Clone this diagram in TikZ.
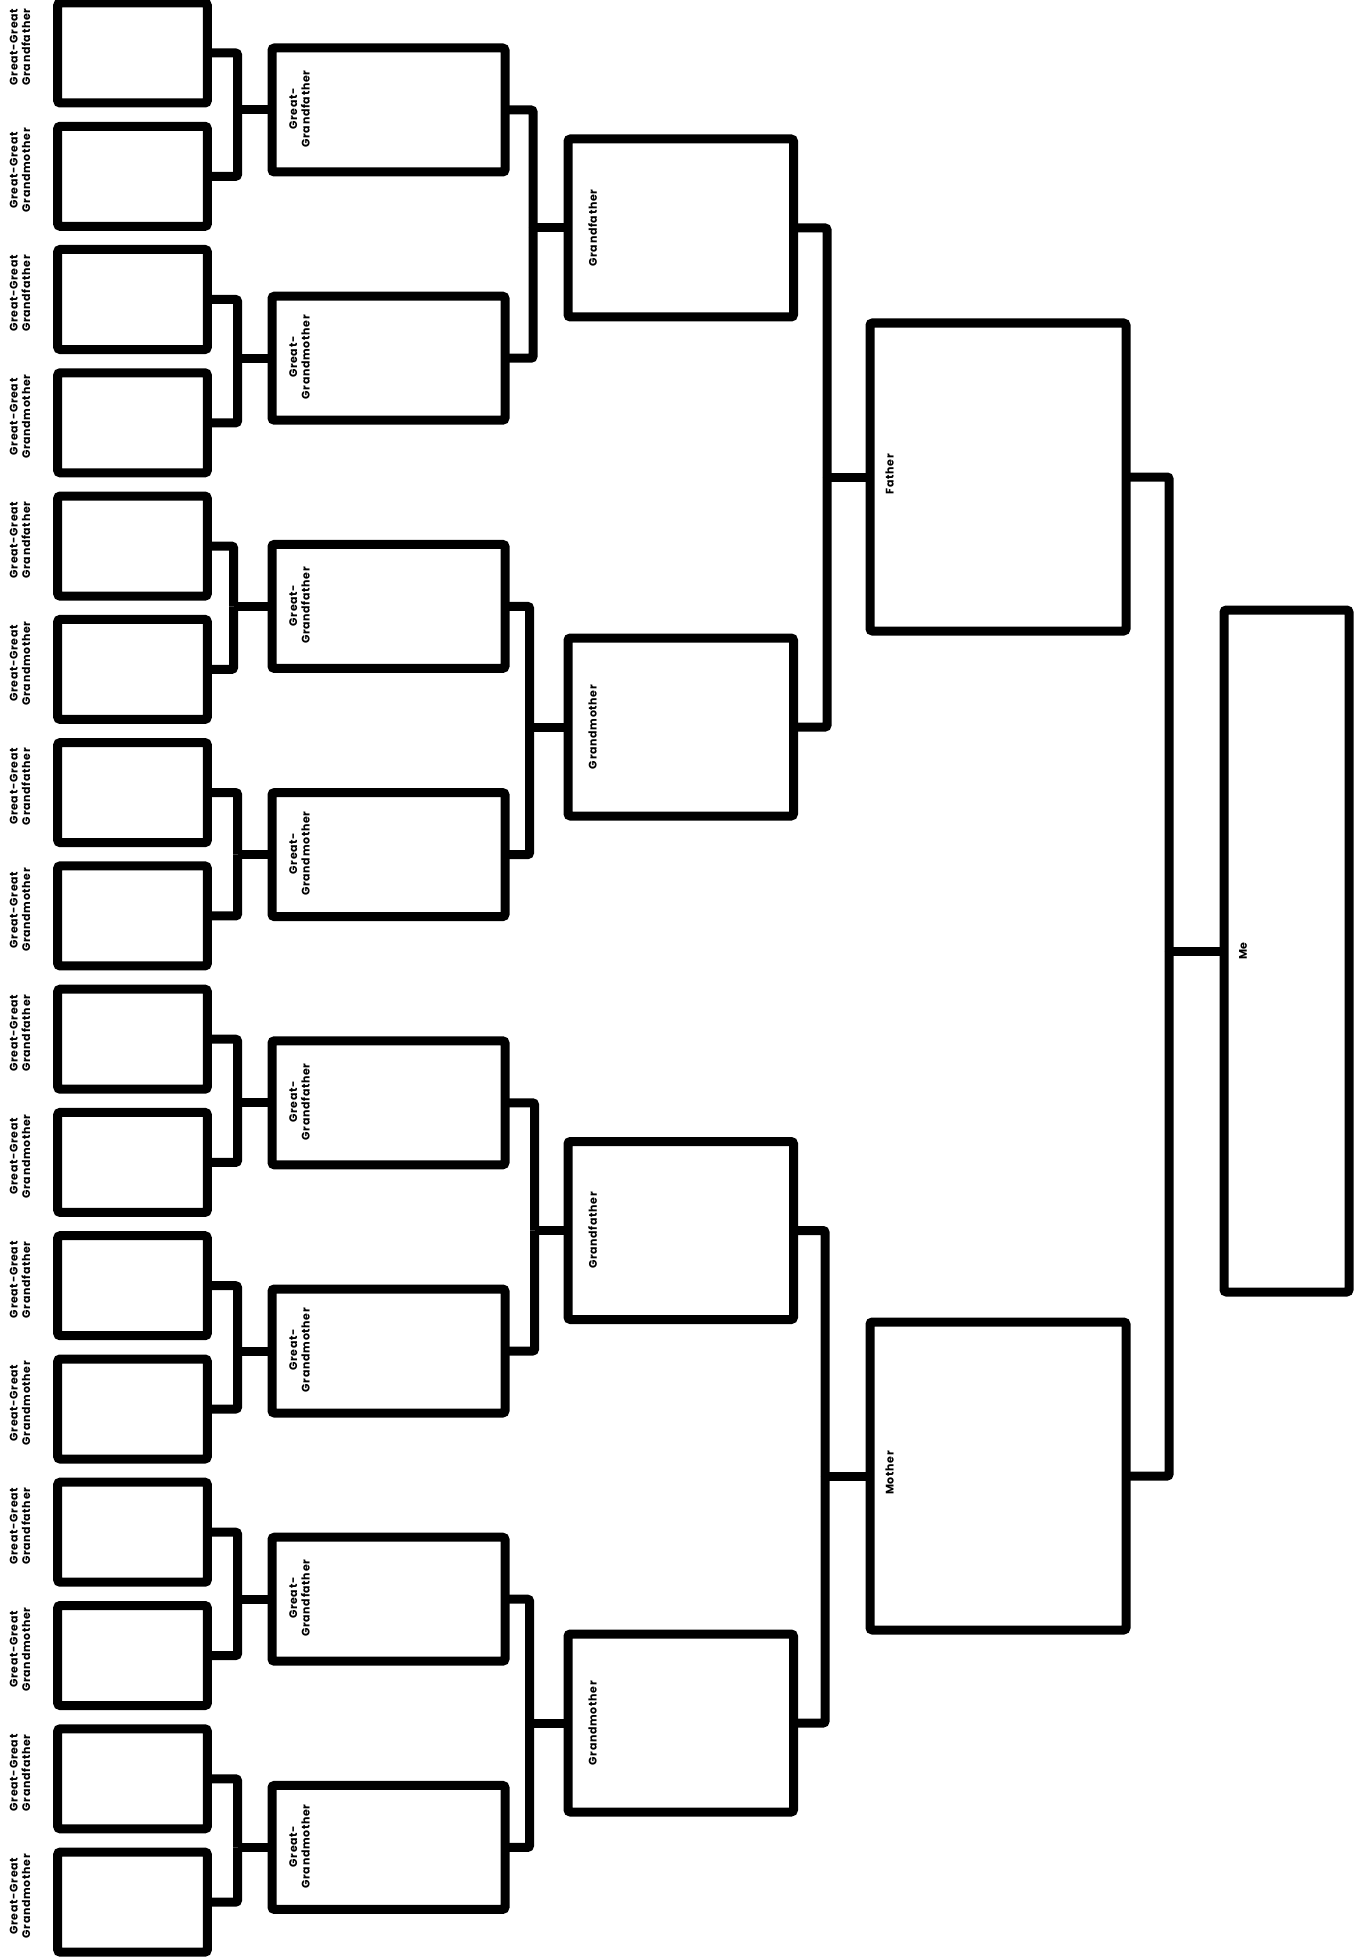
\documentclass[tikz,border=0pt]{standalone}
\usepackage{fontspec}
\setmainfont{Poppins}[LetterSpace=6]
\usepackage{tikz}

\tikzset{
  box/.style={draw, line width=9pt, rounded corners=2.5pt, inner sep=0pt, outer sep=0pt},
  ggbox/.style={box, minimum width=149.6pt, minimum height=100pt},
  gbox/.style={box, minimum width=233pt, minimum height=124pt},
  gpbox/.style={box, minimum width=225.5pt, minimum height=178pt},
  pbox/.style={box, minimum width=256pt, minimum height=308pt},
  mebox/.style={box, minimum width=125pt, minimum height=682pt},
  tag/.style={rotate=90, inner sep=0pt, align=center, font=\fontsize{11}{12.5}\selectfont\bfseries},
  link/.style={line width=9pt, rounded corners=2pt},
  hv/.style={to path={-| (\tikztotarget)}}
}

\begin{document}
\begin{tikzpicture}[x=1pt, y=-1pt]

      \useasboundingbox (0,0) rectangle (1355,1958);

      % great-great grandparents
      \node[ggbox] (gg1)  at (132.5, 53.0)   {};
      \node[ggbox] (gg2)  at (132.5, 176.3)  {};
      \node[ggbox] (gg3)  at (132.5, 299.5)  {};
      \node[ggbox] (gg4)  at (132.5, 422.8)  {};
      \node[ggbox] (gg5)  at (132.5, 546.1)  {};
      \node[ggbox] (gg6)  at (132.5, 669.4)  {};
      \node[ggbox] (gg7)  at (132.5, 792.6)  {};
      \node[ggbox] (gg8)  at (132.5, 915.9)  {};
      \node[ggbox] (gg9)  at (132.5, 1039.2) {};
      \node[ggbox] (gg10) at (132.5, 1162.4) {};
      \node[ggbox] (gg11) at (132.5, 1285.7) {};
      \node[ggbox] (gg12) at (132.5, 1409.0) {};
      \node[ggbox] (gg13) at (132.5, 1532.2) {};
      \node[ggbox] (gg14) at (132.5, 1655.5) {};
      \node[ggbox] (gg15) at (132.5, 1778.8) {};
      \node[ggbox] (gg16) at (132.5, 1902.1) {};

      \node[tag] (gg1l)  at ([xshift=-37.7pt, yshift=6pt]gg1.west)  {Great-Great\\Grandfather};
      \node[tag] (gg2l)  at ([xshift=-37.7pt, yshift=6pt]gg2.west)  {Great-Great\\Grandmother};
      \node[tag] (gg3l)  at ([xshift=-37.7pt, yshift=6pt]gg3.west)  {Great-Great\\Grandfather};
      \node[tag] (gg4l)  at ([xshift=-37.7pt, yshift=6pt]gg4.west)  {Great-Great\\Grandmother};
      \node[tag] (gg5l)  at ([xshift=-37.7pt, yshift=6pt]gg5.west)  {Great-Great\\Grandfather};
      \node[tag] (gg6l)  at ([xshift=-37.7pt, yshift=6pt]gg6.west)  {Great-Great\\Grandmother};
      \node[tag] (gg7l)  at ([xshift=-37.7pt, yshift=6pt]gg7.west)  {Great-Great\\Grandfather};
      \node[tag] (gg8l)  at ([xshift=-37.7pt, yshift=6pt]gg8.west)  {Great-Great\\Grandmother};
      \node[tag] (gg9l)  at ([xshift=-37.7pt, yshift=6pt]gg9.west)  {Great-Great\\Grandfather};
      \node[tag] (gg10l) at ([xshift=-37.7pt, yshift=6pt]gg10.west) {Great-Great\\Grandmother};
      \node[tag] (gg11l) at ([xshift=-37.7pt, yshift=6pt]gg11.west) {Great-Great\\Grandfather};
      \node[tag] (gg12l) at ([xshift=-37.7pt, yshift=6pt]gg12.west) {Great-Great\\Grandmother};
      \node[tag] (gg13l) at ([xshift=-37.7pt, yshift=6pt]gg13.west) {Great-Great\\Grandfather};
      \node[tag] (gg14l) at ([xshift=-37.7pt, yshift=6pt]gg14.west) {Great-Great\\Grandmother};
      \node[tag] (gg15l) at ([xshift=-37.7pt, yshift=6pt]gg15.west) {Great-Great\\Grandfather};
      \node[tag] (gg16l) at ([xshift=-37.7pt, yshift=6pt]gg16.west) {Great-Great\\Grandmother};

      % great grandparents
      \node[gbox] (g1) at (388.5, 110.0)  {};
      \node[gbox] (g2) at (388.5, 358.2)  {};
      \node[gbox] (g3) at (388.5, 606.4)  {};
      \node[gbox] (g4) at (388.5, 854.6)  {};
      \node[gbox] (g5) at (388.5, 1102.8) {};
      \node[gbox] (g6) at (388.5, 1351.0) {};
      \node[gbox] (g7) at (388.5, 1599.2) {};
      \node[gbox] (g8) at (388.5, 1847.4) {};

      \node[tag] (g1l) at ([xshift=27.5pt, yshift=1pt]g1.west) {Great-\\Grandfather};
      \node[tag] (g2l) at ([xshift=27.5pt, yshift=1pt]g2.west) {Great-\\Grandmother};
      \node[tag] (g3l) at ([xshift=27.5pt, yshift=1pt]g3.west) {Great-\\Grandfather};
      \node[tag] (g4l) at ([xshift=27.5pt, yshift=1pt]g4.west) {Great-\\Grandmother};
      \node[tag] (g5l) at ([xshift=27.5pt, yshift=1pt]g5.west) {Great-\\Grandfather};
      \node[tag] (g6l) at ([xshift=27.5pt, yshift=1pt]g6.west) {Great-\\Grandmother};
      \node[tag] (g7l) at ([xshift=27.5pt, yshift=1pt]g7.west) {Great-\\Grandfather};
      \node[tag] (g8l) at ([xshift=27.5pt, yshift=1pt]g8.west) {Great-\\Grandmother};

      % grandparents
      \node[gpbox] (gp1) at (680.75, 228.0)  {};
      \node[gpbox] (gp2) at (680.75, 727.0)  {};
      \node[gpbox] (gp3) at (680.75, 1230.5) {};
      \node[gpbox] (gp4) at (680.75, 1723.0) {};

      \node[tag] (gp1l) at ([xshift=24.5pt]gp1.west) {Grandfather};
      \node[tag] (gp2l) at ([xshift=24.5pt]gp2.west) {Grandmother};
      \node[tag] (gp3l) at ([xshift=24.5pt]gp3.west) {Grandfather};
      \node[tag] (gp4l) at ([xshift=24.5pt]gp4.west) {Grandmother};

      % parents and me
      \node[pbox] (f) at (998, 477)  {};
      \node[pbox] (m) at (998, 1476) {};
      \node[mebox] (me) at (1286.5, 951) {};

      \node[tag] (fl)  at ([xshift=19.5pt, yshift=3pt]f.west) {Father};
      \node[tag] (ml)  at ([xshift=19.5pt, yshift=3pt]m.west) {Mother};
      \node[tag] (mel) at ([xshift=19pt]me.west) {Me};

      % junctions
      \coordinate (a1) at ([xshift=-34.5pt]g1.west);
      \coordinate (a2) at ([xshift=-34.5pt]g2.west);
      \coordinate (a3) at ([xshift=-38.5pt]g3.west);
      \coordinate (a4) at ([xshift=-34.5pt]g4.west);
      \coordinate (a5) at ([xshift=-34.5pt]g5.west);
      \coordinate (a6) at ([xshift=-34.5pt]g6.west);
      \coordinate (a7) at ([xshift=-34.5pt]g7.west);
      \coordinate (a8) at ([xshift=-34.5pt]g8.west);
      \coordinate (b1) at ([xshift=-35pt]gp1.west);
      \coordinate (b2) at ([xshift=-38.5pt]gp2.west);
      \coordinate (b3) at ([xshift=-33.5pt]gp3.west);
      \coordinate (b4) at ([xshift=-38.5pt]gp4.west);
      \coordinate (c1) at ([xshift=-43pt]f.west);
      \coordinate (c2) at ([xshift=-45pt]m.west);
      \coordinate (d1) at ([xshift=-55pt]me.west);

      \path[link]
      (gg1) edge[hv] (a1)   (gg2) edge[hv] (a1)   (a1) edge (g1)
      (gg3) edge[hv] (a2)   (gg4) edge[hv] (a2)   (a2) edge (g2)
      (gg5) edge[hv] (a3)   (gg6) edge[hv] (a3)   (a3) edge (g3)
      (gg7) edge[hv] (a4)   (gg8) edge[hv] (a4)   (a4) edge (g4)
      (gg9) edge[hv] (a5)   (gg10) edge[hv] (a5)  (a5) edge (g5)
      (gg11) edge[hv] (a6)  (gg12) edge[hv] (a6)  (a6) edge (g6)
      (gg13) edge[hv] (a7)  (gg14) edge[hv] (a7)  (a7) edge (g7)
      (gg15) edge[hv] (a8)  (gg16) edge[hv] (a8)  (a8) edge (g8)

      (g1) edge[hv] (b1)    (g2) edge[hv] (b1)    (b1) edge (gp1)
      (g3) edge[hv] (b2)    (g4) edge[hv] (b2)    (b2) edge (gp2)
      (g5) edge[hv] (b3)    (g6) edge[hv] (b3)    (b3) edge (gp3)
      (g7) edge[hv] (b4)    (g8) edge[hv] (b4)    (b4) edge (gp4)

      (gp1) edge[hv] (c1)   (gp2) edge[hv] (c1)   (c1) edge (f)
      (gp3) edge[hv] (c2)   (gp4) edge[hv] (c2)   (c2) edge (m)

      (f) edge[hv] (d1)     (m) edge[hv] (d1)     (d1) edge (me);
    \end{tikzpicture}
\end{document}
